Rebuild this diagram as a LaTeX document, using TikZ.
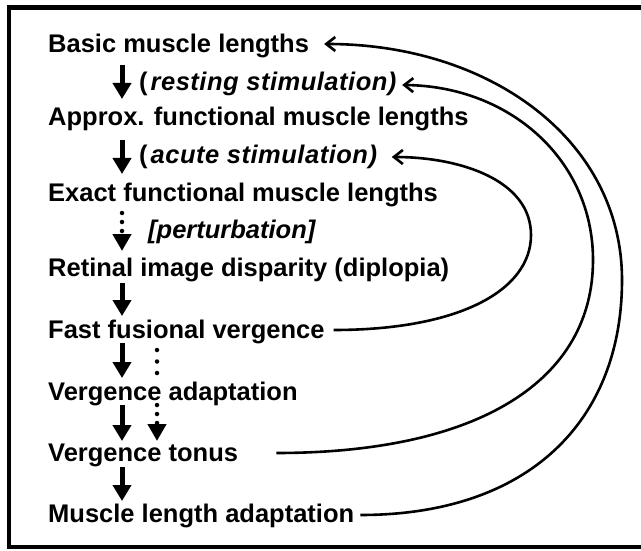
\documentclass[tikz,border=0pt]{standalone}
\usepackage{fontspec}
\setmainfont{Liberation Sans}
\usetikzlibrary{arrows.meta,calc}
\begin{document}
\begin{tikzpicture}[x=1pt,y=-1pt,
  lbl/.style={anchor=base west, inner sep=0pt, font=\fontsize{25.5}{30}\selectfont\bfseries},
  ital/.style={lbl, font=\fontsize{25.5}{30}\selectfont\bfseries\addfontfeature{LetterSpace=2}},
  down/.style={line width=5pt, -{Triangle[width=18pt,length=16pt]}},
  dotdown/.style={line width=4.5pt, line cap=round, dash pattern=on 0pt off 9pt, -{Triangle[width=18pt,length=17pt]}},
  dotline/.style={line width=4.5pt, line cap=round, dash pattern=on 0pt off 11.5pt},
  back/.style={line width=2.6pt, -{Straight Barb[length=9pt,width=14pt]}}]
\useasboundingbox (0,0) rectangle (641,551);
\draw[line width=4.5pt] (9,7.5) rectangle (670,547);

\node[lbl] (basic)   at (48,53)  {Basic muscle lengths};
\node[ital] (rest)   at (139,91) {(\hspace{3pt}\textit{resting stimulation)}};
\node[lbl] (approx)  at (48,126) {Approx. functional muscle lengths};
\node[ital] (acute)  at (139,164) {(\hspace{3pt}\textit{acute stimulation)}};
\node[lbl] (exact)   at (48,201) {Exact functional muscle lengths};
\node[lbl] (pert)    at (148,238) {\textit{[perturbation]}};
\node[lbl] (retinal) at (48,276) {Retinal image disparity (diplopia)};
\node[lbl] (fast)    at (48,338) {Fast fusional vergence};
\node[lbl] (vadapt)  at (48,400) {Vergence adaptation};
\node[lbl] (tonus)   at (48,461) {Vergence tonus};
\node[lbl] (muscle)  at (48,522) {Muscle length adaptation};

\coordinate (ax) at (122,0);
\coordinate (bx) at (157,0);

\draw[down] ($(basic.base -| ax)+(0,12)$) -- ($(approx.base -| ax)+(0,-27)$);
\draw[down] ($(approx.base -| ax)+(0,14)$) -- ($(exact.base -| ax)+(0,-27)$);
\draw[dotdown] ($(exact.base -| ax)+(0,12)$) -- ($(retinal.base -| ax)+(0,-25)$);
\draw[down] ($(retinal.base -| ax)+(0,7)$) -- ($(fast.base -| ax)+(0,-22)$);
\draw[down] ($(fast.base -| ax)+(0,5)$) -- ($(vadapt.base -| ax)+(0,-22)$);
\draw[dotline] ($(fast.base -| bx)+(0,12)$) -- ($(vadapt.base -| bx)+(0,-26)$);
\draw[down] ($(vadapt.base -| ax)+(0,5)$) -- ($(tonus.base -| ax)+(0,-20)$);
\draw[dotdown] ($(vadapt.base -| bx)+(0,5)$) -- ($(tonus.base -| bx)+(0,-20)$);
\draw[down] ($(tonus.base -| ax)+(0,6)$) -- ($(muscle.base -| ax)+(0,-21)$);

\draw[back] ($(fast.base east)+(9,-8)$) .. controls (460,330) and (531,290) .. (531,235)
  .. controls (531,180) and (460,157) .. ($(acute.base east)+(14,-7)$);
\draw[back] ($(tonus.base east)+(38,-8)$) .. controls (480,453) and (593,380) .. (593,260)
  .. controls (593,160) and (510,86) .. ($(rest.base east)+(5,-6)$);
\draw[back] ($(muscle.base east)+(6,-7)$) .. controls (530,515) and (622,420) .. (622,280)
  .. controls (622,140) and (490,44) .. ($(basic.base east)+(15,-9)$);
\end{tikzpicture}
\end{document}
